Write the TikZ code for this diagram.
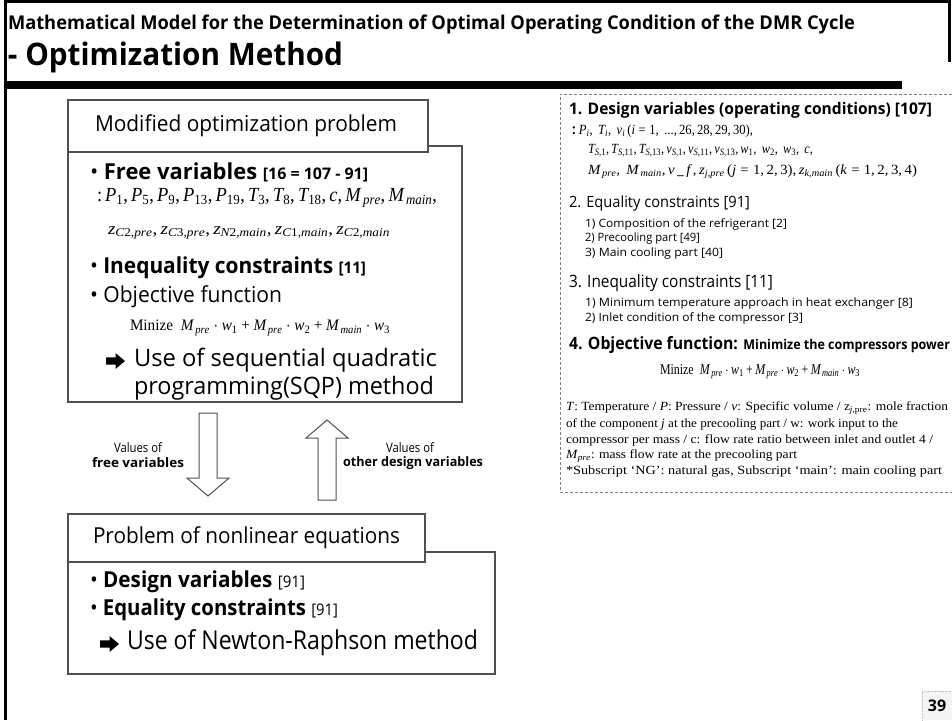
\documentclass[tikz,border=0pt]{standalone}
\usepackage[no-math]{fontspec}
\setmainfont{Open Sans}
\newfontfamily\tnr{Liberation Serif}[NFSSFamily=tnrf]
\DeclareSymbolFont{letters}{TU}{tnrf}{m}{it}
\DeclareSymbolFont{operators}{TU}{tnrf}{m}{n}
\DeclareMathSymbol{,}{\mathpunct}{operators}{`,}
\DeclareMathSymbol{.}{\mathord}{operators}{`.}
\usepackage{graphicx}
\newcommand{\fw}[2]{\resizebox{#1pt}{\height}{#2}}
\newcommand{\fs}[1]{\fontsize{#1}{#1}\selectfont}
\definecolor{boxgray}{HTML}{505050}
\definecolor{dashgray}{HTML}{808080}
\begin{document}
\begin{tikzpicture}[x=1pt,y=-1pt,
  txt/.style={inner sep=0pt,outer sep=0pt,anchor=west},
  ctxt/.style={inner sep=0pt,outer sep=0pt,anchor=center},
  boxl/.style={draw=boxgray,line width=1.2pt,fill=white},
  blockarrow/.style={draw=boxgray,line width=1pt,fill=white},
  bigarrow/.pic={\fill[black] (0,-3.6) -- (9.5,-3.6) -- (9.5,-8) -- (19,0) -- (9.5,8) -- (9.5,3.6) -- (0,3.6) -- cycle;}]
\useasboundingbox (0,0) rectangle (952,720);
% frame
\draw[line width=3pt] (5,0) -- (5,720);
\draw[line width=3pt] (3.5,1.5) -- (949,1.5) -- (949,62);
\fill (5,81) rectangle (902,89);
% titles
\node[txt] (t1) at (8,25) {\fw{847}{\fs{19}\bfseries Mathematical Model for the Determination of Optimal Operating Condition of the DMR Cycle}};
\node[txt] (t2) at (8,57) {\fw{335}{\fs{31}\bfseries - Optimization Method}};

% ===== left box 1 =====
\draw[boxl] (68,146) rectangle (462,402);
\draw[boxl] (68,100) rectangle (428,152);
\node[txt] (h1) at (95,126) {\fw{302}{\fs{22}Modified optimization problem}};
\node[txt] (b1) at (90,172) {\fw{278}{\fs{22}\textbullet\ \textbf{Free variables} {\fs{16}\bfseries [16 = 107 - 91]}}};
\node[txt] (b1m) at (97,198) {\fw{340}{\fs{20}{\tnr :}\,$P_1,P_5,P_9,P_{13},P_{19},T_3,T_8,T_{18},c,M_{\,pre},M_{\,main},$}};
\node[txt] (b1z) at (108,233) {\fw{282}{\fs{17}$z_{C2,pre},z_{C3,pre},z_{N2,main},z_{C1,main},z_{C2,main}$}};
\node[txt] (b2) at (90,268) {\fw{276}{\fs{22}\textbullet\ \textbf{Inequality constraints} {\fs{16}\bfseries [11]}}};
\node[txt] (b3) at (90,297) {\fw{192}{\fs{22}\textbullet\ Objective function}};
\node[txt] (b3f) at (130,328) {\fw{260}{\fs{16}{\tnr Minize}\ \ $M_{\,pre}\cdot w_1+M_{\,pre}\cdot w_2+M_{\,main}\cdot w_3$}};
\pic at (106,361) {bigarrow};
\node[txt] (b4) at (134,360) {\fw{303}{\fs{24}Use of sequential quadratic}};
\node[txt] (b4b) at (134,388) {\fw{300}{\fs{24}programming(SQP) method}};

% ===== arrows =====
\draw[blockarrow] (199,413) -- (217,413) -- (217,478) -- (229,478) -- (208,496) -- (187,478) -- (199,478) -- cycle;
\draw[blockarrow] (318,500) -- (336,500) -- (336,438) -- (348,438) -- (327,420) -- (306,438) -- (318,438) -- cycle;
\node[ctxt] (l1a) at (138,448) {\fw{48}{\fs{13}Values of}};
\node[ctxt] (l1b) at (138,463) {\fw{92}{\fs{13}\bfseries free variables}};
\node[ctxt] (l2a) at (410,448) {\fw{48}{\fs{13}Values of}};
\node[ctxt] (l2b) at (413,463) {\fw{140}{\fs{13}\bfseries other design variables}};

% ===== left box 2 =====
\draw[boxl] (68,552) rectangle (495,674);
\draw[boxl] (68,514) rectangle (425,562);
\node[txt] (h2) at (93,538) {\fw{307}{\fs{22}Problem of nonlinear equations}};
\node[txt] (c1) at (90,582) {\fw{215}{\fs{22}\textbullet\ \textbf{Design variables} {\fs{16}[91]}}};
\node[txt] (c2) at (90,610) {\fw{248}{\fs{22}\textbullet\ \textbf{Equality constraints} {\fs{16}[91]}}};
\pic at (100,644) {bigarrow};
\node[txt] (c3) at (127,643) {\fw{351}{\fs{26}Use of Newton-Raphson method}};

% ===== right dashed panel =====
\draw[dashgray,line width=0.9pt,dash pattern=on 3pt off 2pt] (952,94) -- (560,94) -- (560,492) -- (952,492);
\node[txt] (r1) at (569,110) {\fw{363}{\fs{16}\bfseries 1. Design variables (operating conditions) [107]}};
\node[txt] (r1a) at (572,131) {\fw{181}{\fs{14}\textbf{:}\ $P_i,\ T_i,\ v_i\,(i=1,\ ...,26,28,29,30),$}};
\node[txt] (r1b) at (588,151) {\fw{225}{\fs{14}$T_{S,1},T_{S,11},T_{S,13},v_{S,1},v_{S,11},v_{S,13},w_1,\ w_2,\ w_3,\ c,$}};
\node[txt] (r1c) at (588,172) {\fw{329}{\fs{14}$M_{\,pre},\ M_{\,main},v\,\_\,f\,,z_{j,pre}\,(j=1,2,3),z_{k,main}\,(k=1,2,3,4)$}};
\node[txt] (r2) at (569,203) {\fw{181}{\fs{15.5}2. Equality constraints [91]}};
\node[txt] (r2a) at (585,224) {\fw{202}{\fs{11.5}1) Composition of the refrigerant [2]}};
\node[txt] (r2b) at (585,239) {\fw{115}{\fs{11.5}2) Precooling part [49]}};
\node[txt] (r2c) at (585,254) {\fw{138}{\fs{11.5}3) Main cooling part [40]}};
\node[txt] (r3) at (569,283) {\fw{204}{\fs{17}3. Inequality constraints [11]}};
\node[txt] (r3a) at (585,304) {\fw{328}{\fs{11.5}1) Minimum temperature approach in heat exchanger [8]}};
\node[txt] (r3b) at (585,318) {\fw{218}{\fs{11.5}2) Inlet condition of the compressor [3]}};
\node[txt] (r4) at (569,345) {\fw{381}{\fs{17}\bfseries 4. Objective function: {\fs{13.5}Minimize the compressors power}}};
\node[txt] (r4f) at (660,372) {\fw{200}{\fs{15}{\tnr Minize}\ \ $M_{\,pre}\cdot w_1+M_{\,pre}\cdot w_2+M_{\,main}\cdot w_3$}};
\node[txt] (n1) at (566,408) {\fw{382}{\tnr\fs{12.5}\textit{T}: Temperature / \textit{P}: Pressure / \textit{v}: Specific volume / z\textsubscript{\textit{j},pre}: mole fraction}};
\node[txt] (n2) at (566,424) {\fw{332}{\tnr\fs{12.5}of the component \textit{j} at the precooling part / w: work input to the}};
\node[txt] (n3) at (566,440) {\fw{367}{\tnr\fs{12.5}compressor per mass / c: flow rate ratio between inlet and outlet 4 /}};
\node[txt] (n4) at (566,456) {\fw{231}{\tnr\fs{12.5}\textit{M}\textsubscript{\textit{pre}}: mass flow rate at the precooling part}};
\node[txt] (n5) at (566,472) {\fw{376}{\tnr\fs{12.5}*Subscript ‘NG’: natural gas, Subscript ‘main’: main cooling part}};

% page number
\fill[gray!8] (922,691) rectangle (952,720);
\draw[gray!45,densely dotted] (922,720) -- (922,691) -- (952,691);
\node[ctxt] (pg) at (937,706) {\fs{16}\bfseries 39};
\end{tikzpicture}
\end{document}
